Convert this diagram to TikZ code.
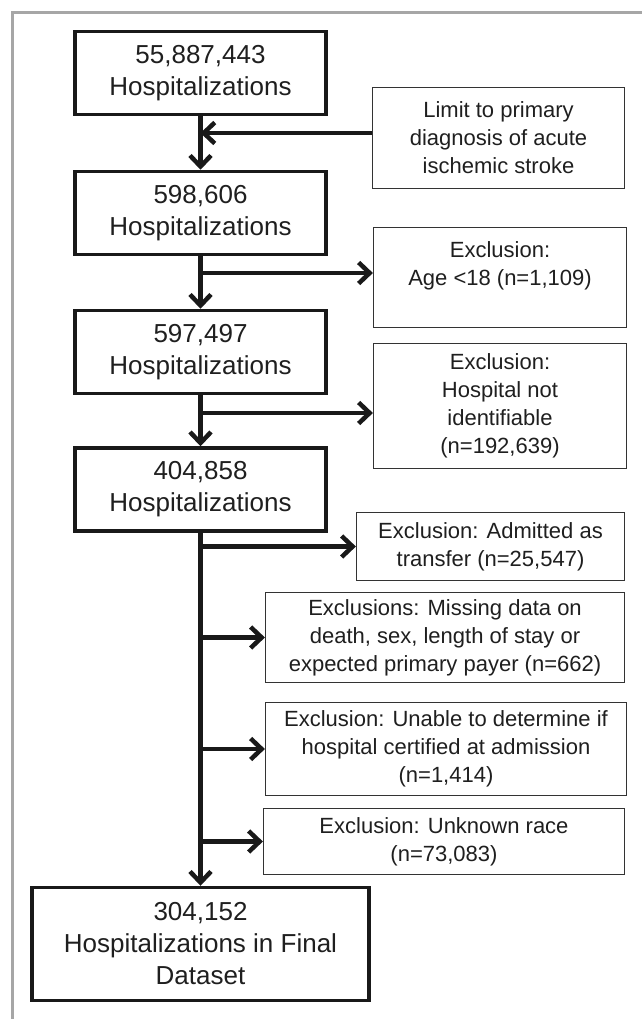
\documentclass[tikz,border=0pt]{standalone}
\usepackage{fontspec}
\setmainfont{Liberation Sans}
\usepackage{tikz}
\usetikzlibrary{arrows.meta,calc}
\newcommand{\bigtxt}{\fontsize{26}{32}\selectfont}
\newcommand{\smalltxt}{\fontsize{22}{28}\selectfont}
\tikzset{
         mainbox/.style={draw=black!90,text=black!88,line width=3.5pt,
                         minimum width=251pt,minimum height=83pt,
                         inner sep=0pt,align=center,font=\bigtxt},
         sidebox/.style={draw=black!80,text=black!88,line width=1.2pt,
                         inner sep=0pt,align=center,font=\smalltxt},
         flow/.style={draw=black!90,line width=4.5pt,
                      -{Straight Barb[length=11pt,width=21pt]}}
        }
\begin{document}
\begin{tikzpicture}[x=1pt,y=-1pt]
\useasboundingbox(0,0)rectangle(642,1019);
\fill[white](0,0)rectangle(642,1019);
\draw[black!35,line width=3pt](12,1019)--(12,13)--(642,13); %frame
%counts
\node[mainbox] (h1) at (200.5,73){55,887,443\\Hospitalizations};
\node[mainbox] (h2) at (200.5,213){598,606\\Hospitalizations};
\node[mainbox] (h3) at (200.5,352){597,497\\Hospitalizations};
\node[mainbox] (h4) at (200.5,489.5){404,858\\Hospitalizations};
\node[mainbox,minimum width=337pt,minimum height=113pt] (final) at (200.5,944){304,152\\Hospitalizations in Final\\Dataset};
%exclusions
\node[sidebox,minimum width=252pt,minimum height=101pt] (limit) at (498.5,138){Limit to primary\\diagnosis of acute\\ischemic stroke};
\node[sidebox,minimum width=253pt,minimum height=100pt] (age) at (500,277.5){Exclusion:\\Age <18 (n=1,109)\\\mbox{}};
\node[sidebox,minimum width=253pt,minimum height=125pt] (hosp) at (500,406){Exclusion:\\Hospital not\\identifiable\\(n=192,639)};
\node[sidebox,minimum width=268pt,minimum height=68pt] (transfer) at (490.5,546.5){Exclusion: Admitted as\\transfer (n=25,547)};
\node[sidebox,minimum width=359pt,minimum height=90pt] (missing) at (445,637.5){Exclusions: Missing data on\\death, sex, length of stay or\\expected primary payer (n=662)};
\node[sidebox,minimum width=361pt,minimum height=93pt] (unable) at (446,749){Exclusion: Unable to determine if\\hospital certified at admission\\(n=1,414)};
\node[sidebox,minimum width=361pt,minimum height=66pt] (race) at (444,841.5){Exclusion: Unknown race\\(n=73,083)};
\coordinate (limitout) at ([yshift=5pt]limit.west);
\coordinate (agein) at ([yshift=4.5pt]age.west);
\coordinate (hospin) at ([yshift=-7pt]hosp.west);
%arrows
\draw[flow](h1)--(h2);
\draw[flow](limitout)--(h1.south|-limitout);
\draw[flow](h2)--(h3);
\draw[flow](h2.south|-agein)--(agein);
\draw[flow](h3)--(h4);
\draw[flow](h3.south|-hospin)--(hospin);
\draw[flow](h4.south)--(h4.south|-final.north);
\foreach \b in {transfer,missing,unable,race}
{
\draw[flow](h4.south|-\b.west)--(\b.west);
}
\end{tikzpicture}
\end{document}
